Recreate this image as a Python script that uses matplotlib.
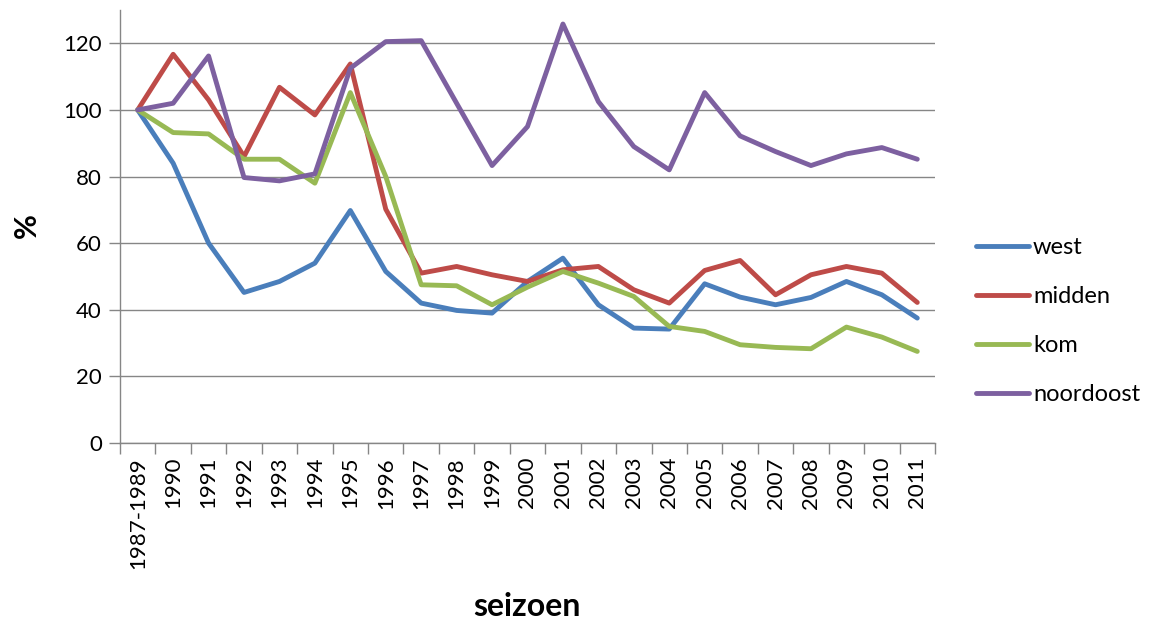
import matplotlib
matplotlib.use("Agg")
import matplotlib.pyplot as plt
import numpy as np

plt.rcParams['font.family'] = ['Lato', 'DejaVu Sans']

seasons = ["1987-1989", "1990", "1991", "1992", "1993", "1994", "1995", "1996",
           "1997", "1998", "1999", "2000", "2001", "2002", "2003", "2004", "2005",
           "2006", "2007", "2008", "2009", "2010", "2011"]

west = [100, 84, 60, 45.2, 48.5, 54, 69.8, 51.5, 42, 39.8, 39, 48.5, 55.5, 41.5,
        34.5, 34.2, 47.8, 43.8, 41.5, 43.7, 48.5, 44.5, 37.5]
midden = [100, 116.7, 103, 86, 106.8, 98.5, 113.8, 70.2, 51, 53, 50.5, 48.5, 52, 53,
          46, 42, 51.8, 54.8, 44.5, 50.5, 53, 51, 42.2]
kom = [100, 93.2, 92.8, 85.2, 85.2, 78, 105.2, 80, 47.5, 47.2, 41.5, 46.8, 51.5, 48,
       44, 35, 33.5, 29.5, 28.7, 28.3, 34.8, 31.8, 27.5]
noordoost = [100, 102, 116.2, 79.7, 78.7, 80.8, 112.5, 120.5, 120.8, 102, 83.3, 95,
             125.8, 102.5, 89, 82, 105.2, 92.2, 87.5, 83.3, 86.8, 88.7, 85.2]

series = [("west", west, "#4A7EBB"),
          ("midden", midden, "#BE4B48"),
          ("kom", kom, "#98B954"),
          ("noordoost", noordoost, "#7D60A0")]

fig = plt.figure(figsize=(11.58, 6.23), dpi=100)
ax = fig.add_axes([120/1158, 1-443/623, (935-120)/1158, (443-10)/623])

x = np.arange(len(seasons))
for name, vals, col in series:
    ax.plot(x, vals, color=col, lw=3.5, label=name, solid_joinstyle='round',
            solid_capstyle='round')

ax.set_ylim(0, 130)
ax.set_yticks(np.arange(0, 121, 20))
ax.set_xlim(-0.5, len(seasons) - 0.5)
ax.set_xticks(x)
ax.set_xticklabels(seasons, rotation=90, fontsize=16)
ax.set_xticks(np.arange(-0.5, len(seasons), 1), minor=True)
ax.tick_params(axis='x', which='major', length=0, pad=10)
ax.tick_params(axis='x', which='minor', length=8, color='#868686', width=1, direction='out')
ax.tick_params(axis='y', length=8, color='#868686', width=1, direction='out', labelsize=16, pad=5)

ax.grid(axis='y', color='#868686', lw=1)
ax.set_axisbelow(True)
for s in ['top', 'right']:
    ax.spines[s].set_visible(False)
for s in ['left', 'bottom']:
    ax.spines[s].set_color('#868686')
    ax.spines[s].set_linewidth(1)

fig.text(527/1158, 1-606/623, "seizoen", fontsize=23, fontweight='bold',
         ha='center', va='center')
fig.text(27/1158, 1-226/623, "%", fontsize=22, fontweight='bold',
         ha='center', va='center', rotation=90)

leg = ax.legend(loc='center left', bbox_to_anchor=(955/1158, 1-321/623),
                bbox_transform=fig.transFigure, frameon=False, fontsize=17,
                handlelength=2.25, labelspacing=1.18, handletextpad=0.15)

fig.savefig("out.png", dpi=100)
